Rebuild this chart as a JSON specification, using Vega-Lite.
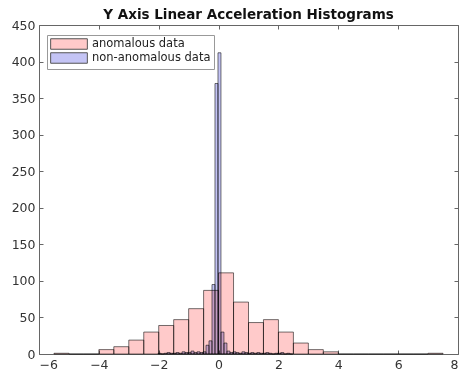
{
  "$schema": "https://vega.github.io/schema/vega-lite/v6.json",
  "width": 419,
  "height": 329,
  "autosize": "none",
  "padding": {"left": 39, "top": 25, "right": 3, "bottom": 25},
  "background": "white",
  "title": {
    "text": "Y Axis Linear Acceleration Histograms",
    "font": "DejaVu Sans",
    "fontSize": 13.5,
    "fontWeight": "bold",
    "color": "#111",
    "anchor": "middle",
    "offset": -2
  },
  "data": {
    "values": [
      {"s": "anomalous data", "x0": -5.5, "x1": -5.0, "n": 1},
      {"s": "anomalous data", "x0": -5.0, "x1": -4.5, "n": 0},
      {"s": "anomalous data", "x0": -4.5, "x1": -4.0, "n": 0},
      {"s": "anomalous data", "x0": -4.0, "x1": -3.5, "n": 6},
      {"s": "anomalous data", "x0": -3.5, "x1": -3.0, "n": 10},
      {"s": "anomalous data", "x0": -3.0, "x1": -2.5, "n": 19},
      {"s": "anomalous data", "x0": -2.5, "x1": -2.0, "n": 30},
      {"s": "anomalous data", "x0": -2.0, "x1": -1.5, "n": 39},
      {"s": "anomalous data", "x0": -1.5, "x1": -1.0, "n": 47},
      {"s": "anomalous data", "x0": -1.0, "x1": -0.5, "n": 62},
      {"s": "anomalous data", "x0": -0.5, "x1": 0.0, "n": 87},
      {"s": "anomalous data", "x0": 0.0, "x1": 0.5, "n": 111},
      {"s": "anomalous data", "x0": 0.5, "x1": 1.0, "n": 71},
      {"s": "anomalous data", "x0": 1.0, "x1": 1.5, "n": 43},
      {"s": "anomalous data", "x0": 1.5, "x1": 2.0, "n": 47},
      {"s": "anomalous data", "x0": 2.0, "x1": 2.5, "n": 30},
      {"s": "anomalous data", "x0": 2.5, "x1": 3.0, "n": 15},
      {"s": "anomalous data", "x0": 3.0, "x1": 3.5, "n": 6},
      {"s": "anomalous data", "x0": 3.5, "x1": 4.0, "n": 3},
      {"s": "anomalous data", "x0": 4.0, "x1": 4.5, "n": 0},
      {"s": "anomalous data", "x0": 4.5, "x1": 5.0, "n": 0},
      {"s": "anomalous data", "x0": 5.0, "x1": 5.5, "n": 0},
      {"s": "anomalous data", "x0": 5.5, "x1": 6.0, "n": 0},
      {"s": "anomalous data", "x0": 6.0, "x1": 6.5, "n": 0},
      {"s": "anomalous data", "x0": 6.5, "x1": 7.0, "n": 0},
      {"s": "anomalous data", "x0": 7.0, "x1": 7.5, "n": 1},
      {"s": "non-anomalous data", "x0": -2.02, "x1": -1.92, "n": 1},
      {"s": "non-anomalous data", "x0": -1.92, "x1": -1.82, "n": 0},
      {"s": "non-anomalous data", "x0": -1.82, "x1": -1.72, "n": 1},
      {"s": "non-anomalous data", "x0": -1.72, "x1": -1.62, "n": 2},
      {"s": "non-anomalous data", "x0": -1.62, "x1": -1.52, "n": 1},
      {"s": "non-anomalous data", "x0": -1.52, "x1": -1.42, "n": 1},
      {"s": "non-anomalous data", "x0": -1.42, "x1": -1.32, "n": 2},
      {"s": "non-anomalous data", "x0": -1.32, "x1": -1.22, "n": 1},
      {"s": "non-anomalous data", "x0": -1.22, "x1": -1.12, "n": 3},
      {"s": "non-anomalous data", "x0": -1.12, "x1": -1.02, "n": 2},
      {"s": "non-anomalous data", "x0": -1.02, "x1": -0.92, "n": 2},
      {"s": "non-anomalous data", "x0": -0.92, "x1": -0.82, "n": 4},
      {"s": "non-anomalous data", "x0": -0.82, "x1": -0.72, "n": 2},
      {"s": "non-anomalous data", "x0": -0.72, "x1": -0.62, "n": 3},
      {"s": "non-anomalous data", "x0": -0.62, "x1": -0.52, "n": 2},
      {"s": "non-anomalous data", "x0": -0.52, "x1": -0.42, "n": 3},
      {"s": "non-anomalous data", "x0": -0.42, "x1": -0.32, "n": 12},
      {"s": "non-anomalous data", "x0": -0.32, "x1": -0.22, "n": 18},
      {"s": "non-anomalous data", "x0": -0.22, "x1": -0.12, "n": 95},
      {"s": "non-anomalous data", "x0": -0.12, "x1": -0.02, "n": 370},
      {"s": "non-anomalous data", "x0": -0.02, "x1": 0.08, "n": 412},
      {"s": "non-anomalous data", "x0": 0.08, "x1": 0.18, "n": 30},
      {"s": "non-anomalous data", "x0": 0.18, "x1": 0.28, "n": 15},
      {"s": "non-anomalous data", "x0": 0.28, "x1": 0.38, "n": 4},
      {"s": "non-anomalous data", "x0": 0.38, "x1": 0.48, "n": 2},
      {"s": "non-anomalous data", "x0": 0.48, "x1": 0.58, "n": 3},
      {"s": "non-anomalous data", "x0": 0.58, "x1": 0.68, "n": 2},
      {"s": "non-anomalous data", "x0": 0.68, "x1": 0.78, "n": 1},
      {"s": "non-anomalous data", "x0": 0.78, "x1": 0.88, "n": 3},
      {"s": "non-anomalous data", "x0": 0.88, "x1": 0.98, "n": 2},
      {"s": "non-anomalous data", "x0": 0.98, "x1": 1.08, "n": 1},
      {"s": "non-anomalous data", "x0": 1.08, "x1": 1.18, "n": 2},
      {"s": "non-anomalous data", "x0": 1.18, "x1": 1.28, "n": 1},
      {"s": "non-anomalous data", "x0": 1.28, "x1": 1.38, "n": 2},
      {"s": "non-anomalous data", "x0": 1.38, "x1": 1.48, "n": 1},
      {"s": "non-anomalous data", "x0": 1.48, "x1": 1.58, "n": 1},
      {"s": "non-anomalous data", "x0": 1.58, "x1": 1.68, "n": 2},
      {"s": "non-anomalous data", "x0": 1.68, "x1": 1.78, "n": 1},
      {"s": "non-anomalous data", "x0": 1.78, "x1": 1.88, "n": 0},
      {"s": "non-anomalous data", "x0": 1.88, "x1": 1.98, "n": 1},
      {"s": "non-anomalous data", "x0": 1.98, "x1": 2.08, "n": 1},
      {"s": "non-anomalous data", "x0": 2.08, "x1": 2.18, "n": 2},
      {"s": "non-anomalous data", "x0": 2.18, "x1": 2.28, "n": 0},
      {"s": "non-anomalous data", "x0": 2.28, "x1": 2.38, "n": 1},
      {"s": "non-anomalous data", "x0": 2.38, "x1": 2.48, "n": 0}
    ]
  },
  "layer": [
    {
      "mark": {"type": "bar", "blend": "multiply", "stroke": "#000", "strokeOpacity": 0.55, "strokeWidth": 1},
      "encoding": {
        "x": {"field": "x0", "type": "quantitative", "scale": {"domain": [-6, 8], "nice": false, "zero": false},
              "axis": {"orient": "bottom", "values": [-6, -4, -2, 0, 2, 4, 6, 8], "title": null}},
        "x2": {"field": "x1"},
        "y": {"field": "n", "type": "quantitative", "stack": null, "scale": {"domain": [0, 450], "nice": false},
              "axis": {"orient": "left", "values": [0, 50, 100, 150, 200, 250, 300, 350, 400, 450], "title": null}},
        "y2": {"datum": 0},
        "color": {"field": "s", "type": "nominal",
                  "scale": {"domain": ["anomalous data", "non-anomalous data"], "range": ["#ffcaca", "#c4c4f5"]},
                  "legend": {
                    "title": null,
                    "orient": "none",
                    "legendX": 8,
                    "legendY": 10,
                    "padding": 3,
                    "fillColor": "white",
                    "strokeColor": "#999",
                    "symbolType": "M-3.5,-1L3.5,-1L3.5,1L-3.5,1Z",
                    "symbolSize": 110,
                    "symbolOffset": 13,
                    "symbolStrokeWidth": 1,
                    "symbolStrokeColor": "#555",
                    "symbolOpacity": 1,
                    "labelFont": "DejaVu Sans",
                    "labelFontSize": 11.5,
                    "labelColor": "#222",
                    "labelOffset": 17,
                    "rowPadding": -2
                  }}
      }
    },
    {
      "mark": {"type": "bar", "opacity": 0},
      "encoding": {
        "x": {"field": "x0", "type": "quantitative",
              "axis": {"orient": "top", "values": [-6, -4, -2, 0, 2, 4, 6, 8], "labels": false, "title": null}},
        "x2": {"field": "x1"},
        "y": {"field": "n", "type": "quantitative", "stack": null,
              "axis": {"orient": "right", "values": [0, 50, 100, 150, 200, 250, 300, 350, 400, 450], "labels": false, "title": null}},
        "y2": {"datum": 0}
      }
    }
  ],
  "resolve": {"axis": {"x": "independent", "y": "independent"}},
  "config": {
    "view": {"stroke": "#666", "strokeWidth": 1},
    "axis": {
      "grid": false,
      "domain": false,
      "tickSize": -4,
      "tickColor": "#666",
      "labelPadding": 8,
      "labelFont": "DejaVu Sans",
      "labelFontSize": 12.5,
      "labelColor": "#333"
    }
  }
}
